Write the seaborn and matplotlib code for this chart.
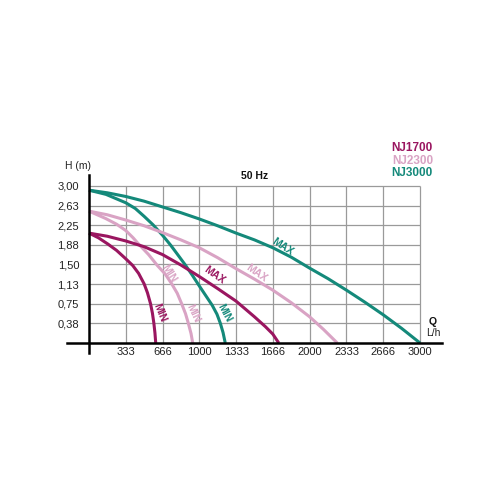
import matplotlib
matplotlib.use("Agg")
import matplotlib.pyplot as plt
import seaborn as sns
import pandas as pd

# ---- data ----
q_3000_max = [0, 166, 333, 500, 666, 833, 1000, 1166, 1333, 1500, 1666, 1833, 2000, 2166, 2333, 2500, 2666, 2833, 3000]
h_3000_max = [2.92, 2.87, 2.80, 2.71, 2.60, 2.49, 2.37, 2.24, 2.10, 1.97, 1.82, 1.64, 1.43, 1.23, 1.01, 0.78, 0.54, 0.28, 0.0]
q_3000_min = [0, 154, 333, 420, 500, 580, 666, 740, 800, 870, 935, 1000, 1060, 1117, 1160, 1190, 1215, 1235]
h_3000_min = [2.92, 2.84, 2.68, 2.57, 2.42, 2.26, 2.06, 1.87, 1.70, 1.50, 1.30, 1.09, 0.90, 0.72, 0.55, 0.38, 0.20, 0.0]
q_2300_max = [0, 166, 333, 500, 666, 833, 1000, 1166, 1333, 1500, 1666, 1833, 2000, 2125, 2250]
h_2300_max = [2.52, 2.45, 2.35, 2.24, 2.11, 1.97, 1.82, 1.63, 1.42, 1.22, 1.01, 0.77, 0.50, 0.26, 0.0]
q_2300_min = [0, 150, 250, 333, 400, 450, 540, 620, 690, 750, 800, 840, 875, 900, 925, 940]
h_2300_min = [2.52, 2.38, 2.27, 2.15, 2.01, 1.89, 1.69, 1.48, 1.32, 1.13, 0.95, 0.75, 0.56, 0.38, 0.18, 0.0]
q_1700_max = [0, 166, 333, 500, 666, 833, 1000, 1166, 1333, 1500, 1600, 1666, 1720]
h_1700_max = [2.10, 2.04, 1.95, 1.84, 1.69, 1.49, 1.27, 1.04, 0.80, 0.50, 0.31, 0.17, 0.0]
q_1700_min = [0, 86, 172, 250, 328, 397, 450, 500, 530, 558, 575, 588, 598, 605]
h_1700_min = [2.10, 2.01, 1.89, 1.77, 1.62, 1.48, 1.33, 1.13, 0.96, 0.75, 0.57, 0.38, 0.19, 0.0]

x_ticks = [1000 / 3 * k for k in range(1, 10)]
x_tick_labels = ["333", "666", "1000", "1333", "1666", "2000", "2333", "2666", "3000"]
y_ticks = [0.375 * k for k in range(1, 9)]
y_tick_labels = ["0,38", "0,75", "1,13", "1,50", "1,88", "2,25", "2,63", "3,00"]

models = ["NJ1700", "NJ2300", "NJ3000"]
colors = {"NJ1700": "#9a1660", "NJ2300": "#d9a3c4", "NJ3000": "#14897a"}

# curve labels: (text, model, Q, H, rotation)
curve_labels = [
    ("MAX", "NJ3000", 1751, 1.84, -33),
    ("MAX", "NJ2300", 1519, 1.34, -35),
    ("MAX", "NJ1700", 1134, 1.29, -35),
    ("MIN", "NJ3000", 1229, 0.58, -62),
    ("MIN", "NJ2300", 943, 0.57, -65),
    ("MIN", "NJ2300", 726, 1.33, -58),
    ("MIN", "NJ1700", 642, 0.58, -68),
]

rows = []
for name, qs, hs, model in [
    ("NJ3000 MAX", q_3000_max, h_3000_max, "NJ3000"),
    ("NJ3000 MIN", q_3000_min, h_3000_min, "NJ3000"),
    ("NJ2300 MAX", q_2300_max, h_2300_max, "NJ2300"),
    ("NJ2300 MIN", q_2300_min, h_2300_min, "NJ2300"),
    ("NJ1700 MAX", q_1700_max, h_1700_max, "NJ1700"),
    ("NJ1700 MIN", q_1700_min, h_1700_min, "NJ1700"),
]:
    for q, h in zip(qs, hs):
        rows.append({"curve": name, "model": model, "Q": q, "H": h})
df = pd.DataFrame(rows)

sns.set_theme(style="white")
plt.rcParams["font.family"] = ["Liberation Sans", "DejaVu Sans"]

fig = plt.figure(figsize=(5, 5), dpi=100)
fig.patch.set_facecolor("white")
ax = fig.add_axes([67 / 500, 147 / 500, 375 / 500, 178 / 500])
ax.set_facecolor("white")

ax.set_xlim(-199, 3199)
ax.set_ylim(-0.191, 3.21)

# grid (only inside 0..3000 x 0..3)
ax.vlines(x_ticks, 0, 3.0, color="#9a9a9a", lw=0.9, zorder=1)
ax.hlines(y_ticks, 0, 3000, color="#9a9a9a", lw=0.9, zorder=1)

curve_palette = {c: colors[c.split()[0]] for c in df["curve"].unique()}
sns.lineplot(data=df, x="Q", y="H", hue="curve", units="curve", estimator=None,
             sort=False, palette=curve_palette, legend=False, lw=2.2, ax=ax,
             zorder=3)
for ln in ax.get_lines():
    ln.set_solid_capstyle("butt")
    ln.set_solid_joinstyle("round")

for txt, model, q, h, rot in curve_labels:
    ax.text(q, h, txt, color=colors[model], fontsize=7.5, fontweight="bold",
            rotation=rot, rotation_mode="anchor", ha="center", va="center",
            zorder=4)

# axes lines
for s in ["top", "right"]:
    ax.spines[s].set_visible(False)
ax.spines["left"].set_position(("data", 0))
ax.spines["bottom"].set_position(("data", 0))
for s in ["left", "bottom"]:
    ax.spines[s].set_color("black")
    ax.spines[s].set_linewidth(1.8)
    ax.spines[s].set_zorder(5)

ax.set_xticks(x_ticks)
ax.set_xticklabels(x_tick_labels)
ax.set_yticks(y_ticks)
ax.set_yticklabels(y_tick_labels)
ax.tick_params(axis="x", length=0, pad=3.2, labelsize=8, colors="#222222")
ax.tick_params(axis="y", length=0, pad=7, labelsize=8, colors="#222222")
ax.set_xlabel("")
ax.set_ylabel("")

# texts around
fig.text(78 / 500, 1 - 166 / 500, "H (m)", fontsize=7.5, ha="center", va="center", color="#222222")
fig.text(255 / 500, 1 - 176 / 500, "50 Hz", fontsize=7.5, fontweight="bold", ha="center", va="center", color="#111111")
fig.text(433 / 500, 1 - 322 / 500, "Q", fontsize=7.5, fontweight="bold", ha="center", va="center", color="#111111")
fig.text(433 / 500, 1 - 333 / 500, "L/h", fontsize=7.5, ha="center", va="center", color="#222222")
for k, m in enumerate(models):
    fig.text(433 / 500, 1 - (148 + 12.5 * k) / 500, m, fontsize=8.5, fontweight="bold",
             ha="right", va="center", color=colors[m])

fig.savefig("out.png", dpi=100, facecolor="white")
